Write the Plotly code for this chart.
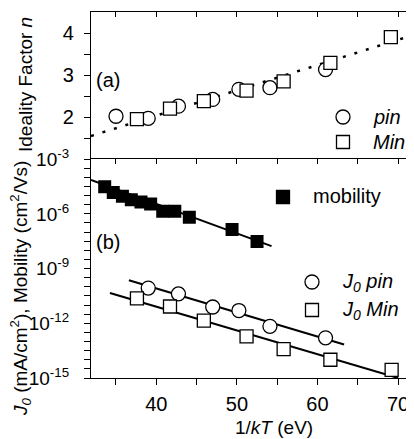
import plotly.graph_objects as go

# ---------------- data ----------------
# (a) ideality factor
pin_x = [35.0, 39.0, 42.75, 47.0, 50.25, 54.1, 61.0]
pin_n = [2.02, 1.97, 2.26, 2.42, 2.66, 2.70, 3.13]
min_x = [37.6, 41.7, 45.9, 51.2, 55.8, 61.6, 69.1]
min_n = [1.95, 2.20, 2.38, 2.63, 2.85, 3.29, 3.90]
fit_n_x = [31.9, 71.85]
fit_n_y = [1.55, 3.95]

# (b) J0 and mobility
mob_x = [33.6, 34.66, 35.8, 36.9, 38.1, 39.3, 40.8, 42.3, 44.1, 49.4, 52.5]
mob_y = [3.1e-5, 1.5e-5, 9.1e-6, 5.9e-6, 4.5e-6, 3.5e-6, 1.4e-6, 1.4e-6, 6.5e-7, 1.4e-7, 3.0e-8]
fit_mob_x = [31.9, 54.3]
fit_mob_y = [7.2e-5, 1.7e-8]

j0pin_x = [39.0, 42.75, 47.0, 50.25, 54.1, 61.0]
j0pin_y = [8.5e-11, 4.1e-11, 7.8e-12, 5.0e-12, 6.8e-13, 1.6e-13]
fit_pin_x = [36.6, 63.3]
fit_pin_y = [2.3e-10, 6.9e-14]

j0min_x = [37.6, 41.7, 45.9, 51.2, 55.8, 61.6, 69.2]
j0min_y = [2.3e-11, 8.3e-12, 1.4e-12, 1.9e-13, 3.8e-14, 1.0e-14, 2.8e-15]
fit_min_x = [34.25, 70.0]
fit_min_y = [4.6e-11, 1.0e-15]

x_ticks = [35, 40, 45, 50, 55, 60, 65, 70]
x_ticktext = ["", "40", "", "50", "", "60", "", "70"]
n_ticks = [1.5, 2, 2.5, 3, 3.5, 4]
n_ticktext = ["", "2", "", "3", "", "4"]
log_exps = [-15, -14.5, -14, -13.5, -13, -12.5, -12, -11.5, -11, -10.5, -10, -9.5, -9,
            -8.5, -8, -7.5, -7, -6.5, -6, -5.5, -5, -4.5, -4, -3.5, -3]
log_labels = {-15: "10<sup>-15</sup>", -12: "10<sup>-12</sup>", -9: "10<sup>-9</sup>",
              -6: "10<sup>-6</sup>", -3: "10<sup>-3</sup>"}

XR = [31.9, 71.85]
FONT = "Liberation Sans, Arial, Helvetica, sans-serif"
BLACK = "#000000"
OFF = 8  # page offset of the figure inside the browser body

fig = go.Figure()

# top panel
fig.add_trace(go.Scatter(x=fit_n_x, y=fit_n_y, mode="lines",
                         line=dict(color=BLACK, width=2.5, dash="3px,9px"),
                         xaxis="x", yaxis="y", showlegend=False))
fig.add_trace(go.Scatter(x=pin_x, y=pin_n, mode="markers",
                         marker=dict(symbol="circle", size=14, color="white", line=dict(width=1.3, color=BLACK)),
                         xaxis="x", yaxis="y", showlegend=False))
fig.add_trace(go.Scatter(x=min_x, y=min_n, mode="markers",
                         marker=dict(symbol="square", size=13, color="white", line=dict(width=1.3, color=BLACK)),
                         xaxis="x", yaxis="y", showlegend=False))

# bottom panel
for fx, fy in [(fit_mob_x, fit_mob_y), (fit_pin_x, fit_pin_y), (fit_min_x, fit_min_y)]:
    fig.add_trace(go.Scatter(x=fx, y=fy, mode="lines", line=dict(color=BLACK, width=2),
                             xaxis="x2", yaxis="y2", showlegend=False))
fig.add_trace(go.Scatter(x=mob_x, y=mob_y, mode="markers",
                         marker=dict(symbol="square", size=13, color=BLACK),
                         xaxis="x2", yaxis="y2", showlegend=False))
fig.add_trace(go.Scatter(x=j0pin_x, y=j0pin_y, mode="markers",
                         marker=dict(symbol="circle", size=14, color="white", line=dict(width=1.3, color=BLACK)),
                         xaxis="x2", yaxis="y2", showlegend=False))
fig.add_trace(go.Scatter(x=j0min_x, y=j0min_y, mode="markers",
                         marker=dict(symbol="square", size=13, color="white", line=dict(width=1.3, color=BLACK)),
                         xaxis="x2", yaxis="y2", showlegend=False, cliponaxis=False))

# invisible traces to create mirror axes
fig.add_trace(go.Scatter(x=[None], y=[None], xaxis="x3", yaxis="y3", showlegend=False, hoverinfo="skip"))
fig.add_trace(go.Scatter(x=[None], y=[None], xaxis="x4", yaxis="y4", showlegend=False, hoverinfo="skip"))

split = 0.598
tickfont = dict(family=FONT, size=20, color=BLACK)
common = dict(showgrid=False, zeroline=False, linecolor=BLACK, linewidth=1.3, tickcolor=BLACK,
              tickwidth=1.3, automargin=False)

log_vals = [10 ** e for e in log_exps]
log_text = [log_labels.get(e, "") for e in log_exps]

fig.update_layout(
    width=406, height=431,
    margin=dict(l=91 - OFF, r=1, t=12 - OFF, b=61, autoexpand=False),
    paper_bgcolor="white", plot_bgcolor="white",
    font=dict(family=FONT, color=BLACK),
    xaxis=dict(domain=[0, 1], anchor="y", range=XR, showticklabels=False, ticks="",
               showline=False, **common),
    yaxis=dict(domain=[split, 1], anchor="x", range=[1.0, 4.5], tickvals=n_ticks, ticktext=n_ticktext,
               ticks="outside", ticklen=6, showline=True, tickfont=tickfont, ticklabelstandoff=6, **common),
    xaxis2=dict(domain=[0, 1], anchor="y2", range=XR, tickvals=x_ticks, ticktext=x_ticktext,
                ticks="outside", ticklen=6, showline=True, tickfont=tickfont, ticklabelstandoff=2, **common),
    yaxis2=dict(domain=[0, split], anchor="x2", type="log", range=[-15, -3], tickvals=log_vals,
                ticktext=log_text, ticks="outside", ticklen=6, showline=True, ticklabelstandoff=11,
                tickfont=dict(family=FONT, size=19, color=BLACK), **common),
    xaxis3=dict(overlaying="x", anchor="y", side="top", range=XR, tickvals=x_ticks,
                showticklabels=False, ticks="inside", ticklen=5, showline=True, **common),
    yaxis3=dict(overlaying="y", anchor="x", side="right", range=[1.0, 4.5], tickvals=n_ticks,
                showticklabels=False, ticks="inside", ticklen=6, showline=True, **common),
    xaxis4=dict(overlaying="x2", anchor="y2", side="top", range=XR, tickvals=x_ticks,
                showticklabels=False, ticks="inside", ticklen=5, showline=True, **common),
    yaxis4=dict(overlaying="y2", anchor="x2", side="right", type="log", range=[-15, -3],
                tickvals=log_vals, showticklabels=False, ticks="inside", ticklen=6, showline=True, **common),
)

def px_x(p):
    return (p - 91) / 322.0

def px_y(p):
    return (378 - p) / 366.0

shapes = []
def sym(kind, cx, cy, r, filled=False):
    shapes.append(dict(type=kind, xref="paper", yref="paper", xsizemode="pixel", ysizemode="pixel",
                       xanchor=px_x(cx), yanchor=px_y(cy), x0=-r, x1=r, y0=-r, y1=r,
                       line=dict(color=BLACK, width=1.3),
                       fillcolor=BLACK if filled else "white"))

sym("circle", 343, 117, 7)
sym("rect", 343, 142, 6.5)
sym("rect", 283, 197, 6.5, filled=True)
sym("circle", 312, 282, 7)
sym("rect", 312, 310, 6.5)
fig.update_layout(shapes=shapes)

ann = []
def text(t, cx, cy, size=20, xanchor="left", angle=0):
    ann.append(dict(text=t, xref="paper", yref="paper", x=px_x(cx), y=px_y(cy), xanchor=xanchor,
                    yanchor="middle", showarrow=False, textangle=angle, borderpad=0,
                    font=dict(family=FONT, size=size, color=BLACK)))

text("<i>pin</i>", 372, 117)
text("<i>Min</i>", 372, 142)
text("mobility", 312, 196)
text("<i>J<sub>0</sub></i> <i>pin</i>", 341, 282)
text("<i>J<sub>0</sub></i> <i>Min</i>", 341, 310)
text("(a)", 95, 80)
text("(b)", 95, 242)
text("1/<i>kT</i> (eV)", 274, 427, size=19, xanchor="center")
text("Ideality Factor <i>n</i>", 25, 85, size=19, xanchor="center", angle=-90)
text("<i>J<sub>0</sub></i> (mA/cm<sup>2</sup>), Mobility (cm<sup>2</sup>/Vs)", 20, 289, size=19,
     xanchor="center", angle=-90)
fig.update_layout(annotations=ann)

fig.write_html("out.html")
